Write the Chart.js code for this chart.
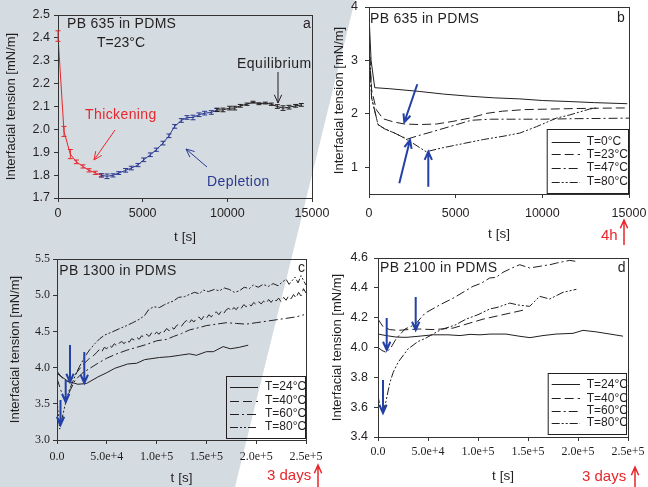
<!DOCTYPE html>
<html>
<head>
<meta charset="utf-8">
<script src="https://cdn.jsdelivr.net/npm/chart.js@4.4.0/dist/chart.umd.min.js"></script>
<style>
  body { margin: 0; width: 648px; height: 487px; position: relative; overflow: hidden; background: #fff; }
  #bg { position: absolute; left: 0; top: 0; width: 648px; height: 487px; background: #d5dce1;
        clip-path: polygon(0 0, 355px 0, 296px 240px, 235px 487px, 0 487px); }
  canvas { position: absolute; }
</style>
</head>
<body>
<div id="bg"></div>
<canvas id="chartA"></canvas>
<canvas id="chartB"></canvas>
<canvas id="chartC"></canvas>
<canvas id="chartD"></canvas>
<script>
// ---- panel a : PB 635 in PDMS, 23 C (with error bars)
const aRedT = [0, 354, 728, 1083, 1476, 1831, 2205, 2559];
const aRedV = [2.408, 1.991, 1.892, 1.858, 1.838, 1.821, 1.810, 1.799];
const aRedErr = [0.023, 0.022, 0.02, 0.008, 0.007, 0.007, 0.007, 0.007];
const aBlueT = [2559, 2894, 3248, 3583, 3996, 4331, 4724, 5059, 5453, 5807, 6201, 6555, 6890, 7283, 7618, 7972, 8327, 8661, 9055, 9390];
const aBlueV = [1.799, 1.795, 1.799, 1.809, 1.821, 1.831, 1.844, 1.867, 1.889, 1.911, 1.940, 1.972, 2.013, 2.039, 2.052, 2.052, 2.064, 2.071, 2.074, 2.085];
const aBlueErr = [0.007, 0.01, 0.007, 0.006, 0.008, 0.008, 0.007, 0.008, 0.008, 0.007, 0.008, 0.008, 0.008, 0.008, 0.008, 0.01, 0.008, 0.008, 0.008, 0.007];
const aBlackT = [9390, 9744, 10138, 10433, 10768, 11161, 11516, 11870, 12244, 12598, 12953, 13287, 13642, 14035, 14370];
const aBlackV = [2.085, 2.085, 2.093, 2.093, 2.103, 2.110, 2.119, 2.112, 2.115, 2.110, 2.100, 2.093, 2.097, 2.103, 2.107];
const aBlackErr = [0.007, 0.008, 0.008, 0.008, 0.006, 0.005, 0.004, 0.004, 0.004, 0.005, 0.008, 0.01, 0.008, 0.006, 0.006];
const aXTicks = [0, 5000, 10000, 15000];
const aYTicks = [1.7, 1.8, 1.9, 2.0, 2.1, 2.2, 2.3, 2.4, 2.5];

// ---- panel b : PB 635 in PDMS, 4 temperatures
const bLabels = ['T=0°C', 'T=23°C', 'T=47°C', 'T=80°C'];
const bT0t = [0, 120, 330, 1200, 2900, 4300, 5800, 7200, 8700, 10000, 11600, 13000, 14900];
const bT0v = [3.85, 3.0, 2.49, 2.47, 2.42, 2.37, 2.33, 2.30, 2.28, 2.25, 2.23, 2.21, 2.19];
const bT23t = [0, 150, 420, 800, 1400, 2050, 2900, 3900, 4850, 5800, 6800, 7700, 9000, 10500, 12000, 14300, 14900];
const bT23v = [3.3, 2.45, 2.08, 1.91, 1.85, 1.81, 1.80, 1.81, 1.86, 1.92, 2.01, 2.05, 2.08, 2.09, 2.10, 2.11, 2.11];
const bT47t = [0, 150, 520, 900, 1480, 1850, 2240, 2820, 3590, 4750, 5900, 7000, 8700, 10000, 12000, 15000];
const bT47v = [3.4, 2.3, 1.80, 1.72, 1.64, 1.58, 1.53, 1.59, 1.66, 1.77, 1.88, 1.90, 1.90, 1.90, 1.91, 1.92];
const bT80t = [0, 150, 520, 900, 1480, 1850, 2440, 3300, 4180, 5530, 6600, 7730, 8700, 9660, 10810, 11580, 12730, 13100];
const bT80v = [3.4, 2.3, 1.80, 1.72, 1.64, 1.58, 1.47, 1.29, 1.36, 1.45, 1.52, 1.58, 1.64, 1.76, 1.92, 1.98, 2.09, 2.11];
const bXTicks = [0, 5000, 10000, 15000];
const bYTicks = [1, 2, 3, 4];

// ---- panel c : PB 1300 in PDMS
const cLabels = ['T=24°C', 'T=40°C', 'T=60°C', 'T=80°C'];
const cT24t = [0, 11000, 21000, 29500, 41000, 50000, 58000, 71000, 80000, 88000, 103000, 113000, 123000, 133000, 140000, 150000, 157000, 166800, 174000, 183000, 192000];
const cT24v = [3.92, 3.81, 3.77, 3.78, 3.87, 3.93, 3.99, 4.05, 4.06, 4.11, 4.14, 4.15, 4.17, 4.19, 4.17, 4.22, 4.22, 4.29, 4.26, 4.28, 4.31];
const cT40t = [0, 5000, 12000, 18000, 26000, 32000, 37000,
  40000, 42500, 45000, 47500, 50000, 52500, 55000, 57500, 60000, 62500, 65000, 67500, 70000, 72500, 75000, 77500,
  80000, 82500, 85000, 87500, 90000, 92500, 95000, 97500, 100000, 102500, 105000, 107500, 110000, 112500, 115000, 117500,
  120000, 122500, 125000, 127500, 130000, 132500, 135000, 137500, 140000, 142500, 145000, 147500, 150000, 152500, 155000, 157500,
  160000, 162500, 165000, 167500, 170000, 172500, 175000, 177500, 180000, 182500, 185000, 187500, 190000, 192500, 195000, 197500,
  200000, 202500, 205000, 207500, 210000, 212500, 215000, 217500, 220000, 222500, 225000, 227500, 230000, 232500, 235000, 237500,
  240000, 242500, 245000, 247500, 250000];
const cT40v = [3.95, 3.86, 3.80, 3.90, 4.04, 4.12, 4.17,
  4.21, 4.25, 4.22, 4.28, 4.26, 4.31, 4.28, 4.33, 4.30, 4.34, 4.36, 4.33, 4.38, 4.35, 4.40, 4.38,
  4.42, 4.39, 4.44, 4.42, 4.46, 4.43, 4.48, 4.45, 4.49, 4.46, 4.51, 4.49, 4.54, 4.51, 4.56, 4.53,
  4.58, 4.60, 4.57, 4.62, 4.65, 4.61, 4.66, 4.63, 4.68, 4.70, 4.66, 4.71, 4.68, 4.73, 4.70, 4.75,
  4.77, 4.73, 4.78, 4.75, 4.80, 4.82, 4.78, 4.83, 4.80, 4.85, 4.82, 4.87, 4.84, 4.88, 4.85, 4.90,
  4.87, 4.91, 4.88, 4.92, 4.89, 4.94, 4.90, 4.95, 4.92, 4.96, 4.91, 4.97, 4.93, 4.99, 4.95, 5.01,
  4.96, 5.04, 4.99, 5.09, 5.03];
const cT60t = [0, 4000, 8400, 13000, 18000, 25000, 33000, 41000, 50000, 60000, 70000, 80000, 90000, 100000, 110000, 117000, 125000, 133000, 142000, 150000, 160000, 170000, 180000, 190000, 200000, 210000, 220000, 230000, 240000, 248000];
const cT60v = [3.85, 3.68, 3.53, 3.68, 3.82, 3.92, 3.99, 4.06, 4.13, 4.19, 4.24, 4.28, 4.32, 4.37, 4.39, 4.43, 4.47, 4.52, 4.55, 4.58, 4.60, 4.62, 4.61, 4.60, 4.62, 4.64, 4.66, 4.68, 4.70, 4.73];
const cT80t = [0, 2700, 7700, 12000, 17800, 22000, 27900, 33000, 38000, 43000, 48000, 55000, 63000, 70000, 76000, 83000, 88000, 92000, 97000, 103000, 108000, 113000, 117000, 122000, 128000, 133000, 138000, 143000, 147000, 152000, 158000, 163000, 168000, 173000, 178000, 183000, 188000, 193000, 197000, 202000, 207000, 212000, 217000, 222000, 226000, 230000, 233000, 236000, 239000, 242000, 245000, 248000, 250000];
const cT80v = [3.55, 3.15, 3.46, 3.68, 3.87, 4.00, 4.15, 4.25, 4.33, 4.40, 4.45, 4.49, 4.54, 4.58, 4.62, 4.67, 4.72, 4.80, 4.84, 4.83, 4.87, 4.90, 4.92, 4.97, 4.98, 5.01, 5.04, 5.02, 5.07, 5.05, 5.08, 5.06, 5.10, 5.08, 5.04, 5.06, 5.11, 5.09, 5.14, 5.11, 5.15, 5.12, 5.16, 5.13, 5.18, 5.22, 5.15, 5.20, 5.25, 5.17, 5.27, 5.19, 5.14];
const cXTicks = [0, 50000, 100000, 150000, 200000, 250000];
const cXLabels = ['0.0', '5.0e+4', '1.0e+5', '1.5e+5', '2.0e+5', '2.5e+5'];
const cYTicks = [3.0, 3.5, 4.0, 4.5, 5.0, 5.5];

// ---- panel d : PB 2100 in PDMS
const dLabels = ['T=24°C', 'T=40°C', 'T=60°C', 'T=80°C'];
const dT24t = [0, 8000, 18000, 28000, 40000, 55000, 70000, 82000, 92000, 102000, 112000, 128000, 142000, 152000, 165000, 178000, 195000, 205000, 218000, 232000, 245000];
const dT24v = [4.09, 4.08, 4.07, 4.068, 4.075, 4.085, 4.085, 4.08, 4.088, 4.085, 4.09, 4.09, 4.075, 4.066, 4.08, 4.09, 4.095, 4.115, 4.105, 4.09, 4.076];
const dT40t = [0, 5000, 11700, 20000, 30000, 41700, 55000, 65000, 75000, 90000, 105000, 115000, 125000, 135000, 145000];
const dT40v = [4.19, 4.14, 4.12, 4.115, 4.12, 4.124, 4.12, 4.125, 4.13, 4.16, 4.19, 4.205, 4.22, 4.235, 4.25];
const dT60t = [0, 4000, 8300, 13000, 18300, 27000, 37000, 47000, 55000, 63000, 75000, 85000, 95000, 103000, 111700, 118000, 125000, 133000, 141700, 151700, 158000, 165000, 172000, 178400, 185000, 191700, 198400];
const dT60v = [4.0, 3.98, 3.967, 4.0, 4.06, 4.124, 4.153, 4.23, 4.26, 4.29, 4.33, 4.37, 4.41, 4.43, 4.466, 4.47, 4.504, 4.53, 4.555, 4.533, 4.54, 4.548, 4.555, 4.566, 4.575, 4.584, 4.577];
const dT80t = [0, 2000, 5000, 8000, 11700, 15000, 20000, 30000, 40000, 47000, 55000, 63000, 77000, 88000, 100000, 111700, 120000, 131700, 140000, 151700, 161700, 171700, 185000, 198400];
const dT80v = [3.68, 3.6, 3.565, 3.64, 3.76, 3.83, 3.90, 3.99, 4.04, 4.06, 4.09, 4.12, 4.15, 4.19, 4.22, 4.258, 4.27, 4.298, 4.285, 4.276, 4.343, 4.325, 4.37, 4.39];
const dXTicks = [0, 50000, 100000, 150000, 200000, 250000];
const dXLabels = ['0.0', '5.0e+4', '1.0e+5', '1.5e+5', '2.0e+5', '2.5e+5'];
const dYTicks = [3.4, 3.6, 3.8, 4.0, 4.2, 4.4, 4.6];

const SANS = '"Liberation Sans", Arial, sans-serif';
const SERIF = '"Liberation Serif", "Times New Roman", serif';
const RED = '#e8262b';
const BLUE = '#2b3990';
const ARROW = '#2340a6';
const INK = '#231f20';
const DASHED = [9, 4];
const DASHDOT = [9, 3, 2, 3];
const DASHDOTDOT = [8, 2, 2, 2, 2, 2];

Chart.defaults.font.family = SANS;
Chart.defaults.color = INK;

function series(t, v, color, dash, label, errors) {
  return {
    label: label,
    data: t.map((x, i) => ({ x: x, y: v[i] })),
    borderColor: color,
    borderWidth: 1,
    borderDash: dash || [],
    pointRadius: 0,
    tension: 0,
    fill: false,
    errors: errors
  };
}

function axis(o) {
  return {
    type: 'linear',
    position: o.pos,
    min: o.min,
    max: o.max,
    afterBuildTicks: ax => { ax.ticks = o.ticks.map(v => ({ value: v })); },
    afterFit: ax => {
      if (o.pos === 'left') ax.width = o.size; else ax.height = o.size;
      ax.paddingLeft = 0; ax.paddingRight = 0; ax.paddingTop = 0; ax.paddingBottom = 0;
    },
    ticks: { autoSkip: false, maxRotation: 0, padding: o.pad, font: o.font, color: INK, callback: o.fmt },
    grid: { drawOnChartArea: false, tickLength: 4, color: '#333' },
    border: { color: '#333' },
    title: { display: true, text: o.title, font: { size: o.tsize, family: SANS }, color: INK, padding: o.tpad }
  };
}

const frame = {
  id: 'frame',
  afterDatasetsDraw(chart) {
    const { ctx, chartArea: a } = chart;
    ctx.save();
    ctx.strokeStyle = '#333';
    ctx.lineWidth = 1;
    ctx.strokeRect(Math.round(a.left) + 0.5, Math.round(a.top) + 0.5, Math.round(a.right - a.left), Math.round(a.bottom - a.top));
    ctx.restore();
  }
};

const errorBars = {
  id: 'errorBars',
  afterDatasetsDraw(chart) {
    const { ctx, scales: { x, y } } = chart;
    chart.data.datasets.forEach(ds => {
      if (!ds.errors) return;
      ctx.save();
      ctx.strokeStyle = ds.borderColor;
      ctx.lineWidth = 1;
      ds.data.forEach((p, i) => {
        const e = ds.errors[i];
        const px = x.getPixelForValue(p.x);
        const top = y.getPixelForValue(p.y + e);
        const bot = y.getPixelForValue(p.y - e);
        ctx.beginPath();
        ctx.moveTo(px, top); ctx.lineTo(px, bot);
        ctx.moveTo(px - 2.5, top); ctx.lineTo(px + 2.5, top);
        ctx.moveTo(px - 2.5, bot); ctx.lineTo(px + 2.5, bot);
        ctx.stroke();
      });
      ctx.restore();
    });
  }
};

function drawArrow(ctx, a) {
  const ang = Math.atan2(a.y2 - a.y1, a.x2 - a.x1);
  const hl = a.head || 9;
  ctx.strokeStyle = a.color;
  ctx.lineWidth = a.w || 1;
  ctx.beginPath();
  ctx.moveTo(a.x1, a.y1);
  ctx.lineTo(a.x2, a.y2);
  ctx.moveTo(a.x2 - hl * Math.cos(ang - 0.42), a.y2 - hl * Math.sin(ang - 0.42));
  ctx.lineTo(a.x2, a.y2);
  ctx.lineTo(a.x2 - hl * Math.cos(ang + 0.42), a.y2 - hl * Math.sin(ang + 0.42));
  ctx.stroke();
}

// texts, arrows and the boxed legend, given in page pixels
function notes(ox, oy, n) {
  return {
    id: 'notes',
    afterDraw(chart) {
      const ctx = chart.ctx;
      ctx.save();
      ctx.translate(-ox, -oy);
      (n.texts || []).forEach(t => {
        ctx.font = (t.size || 14) + 'px ' + SANS;
        ctx.letterSpacing = (t.ls || 0) + 'px';
        ctx.fillStyle = t.color || INK;
        ctx.textBaseline = 'alphabetic';
        ctx.textAlign = 'left';
        ctx.fillText(t.s, t.x, t.y);
      });
      ctx.letterSpacing = '0px';
      (n.arrows || []).forEach(a => drawArrow(ctx, a));
      const lg = n.legend;
      if (lg) {
        ctx.strokeStyle = INK;
        ctx.lineWidth = 1;
        ctx.setLineDash([]);
        ctx.strokeRect(lg.x + 0.5, lg.y + 0.5, lg.w, lg.h);
        ctx.font = '12px ' + SANS;
        ctx.fillStyle = INK;
        ctx.textBaseline = 'middle';
        chart.data.datasets.forEach((ds, i) => {
          const ry = lg.rows[i];
          ctx.setLineDash(ds.borderDash);
          ctx.beginPath();
          ctx.moveTo(lg.lx1, Math.round(ry) + 0.5);
          ctx.lineTo(lg.lx2, Math.round(ry) + 0.5);
          ctx.stroke();
          ctx.setLineDash([]);
          ctx.fillText(ds.label, lg.tx, ry);
        });
      }
      ctx.restore();
    }
  };
}

function makeChart(id, box, pad, datasets, xAx, yAx, n) {
  const cv = document.getElementById(id);
  cv.width = box.w; cv.height = box.h;
  cv.style.left = box.left + 'px'; cv.style.top = box.top + 'px';
  cv.style.width = box.w + 'px'; cv.style.height = box.h + 'px';
  return new Chart(cv, {
    type: 'line',
    data: { datasets: datasets },
    options: {
      responsive: false,
      animation: false,
      devicePixelRatio: 1,
      layout: { padding: pad },
      plugins: { legend: { display: false }, tooltip: { enabled: false } },
      scales: { x: xAx, y: yAx }
    },
    plugins: [frame, errorBars, notes(box.left, box.top, n)]
  });
}

const YTITLE = 'Interfacial tension [mN/m]';

// panel a
makeChart('chartA', { left: 0, top: 0, w: 330, h: 250 }, { left: 0, top: 15, right: 18, bottom: 0 },
  [
    series(aRedT, aRedV, RED, [], 'a1', aRedErr),
    series(aBlueT, aBlueV, BLUE, [], 'a2', aBlueErr),
    series(aBlackT, aBlackV, INK, [], 'a3', aBlackErr)
  ],
  axis({ pos: 'bottom', min: 0, max: 15000, ticks: aXTicks, size: 52, pad: 4, font: { size: 12.5 }, fmt: v => String(v),
         title: 't [s]', tsize: 13.5, tpad: { top: 0, bottom: 4.5 } }),
  axis({ pos: 'left', min: 1.7, max: 2.5, ticks: aYTicks, size: 58, pad: 4, font: { size: 12.5 }, fmt: v => v.toFixed(1),
         title: YTITLE, tsize: 13, tpad: { top: 4, bottom: 0 } }),
  {
    texts: [
      { s: 'PB 635 in PDMS', x: 67, y: 28, ls: 0.3 },
      { s: 'T=23°C', x: 97, y: 46.5 },
      { s: 'a', x: 303, y: 28 },
      { s: 'Thickening', x: 85, y: 119, color: RED, ls: 0.4 },
      { s: 'Depletion', x: 207, y: 186, color: BLUE, ls: 0.4 },
      { s: 'Equilibrium', x: 237, y: 68, ls: 0.5 }
    ],
    arrows: [
      { x1: 115, y1: 130, x2: 94, y2: 160, color: RED, w: 1 },
      { x1: 207, y1: 167, x2: 186, y2: 149, color: BLUE, w: 1 },
      { x1: 278, y1: 72, x2: 278, y2: 103, color: INK, w: 1 }
    ]
  });

// panel b
makeChart('chartB', { left: 325, top: 0, w: 323, h: 250 }, { left: 0, top: 7, right: 19, bottom: 0 },
  [
    series(bT0t, bT0v, INK, [], bLabels[0]),
    series(bT23t, bT23v, INK, DASHED, bLabels[1]),
    series(bT47t, bT47v, INK, DASHDOT, bLabels[2]),
    series(bT80t, bT80v, INK, DASHDOTDOT, bLabels[3])
  ],
  axis({ pos: 'bottom', min: 0, max: 15000, ticks: bXTicks, size: 56, pad: 8, font: { size: 12.5 }, fmt: v => String(v),
         title: 't [s]', tsize: 13.5, tpad: { top: 0, bottom: 7.6 } }),
  axis({ pos: 'left', min: 0.5, max: 4, ticks: bYTicks, size: 44, pad: 7, font: { size: 12.5 }, fmt: v => String(v),
         title: YTITLE, tsize: 13, tpad: { top: 7, bottom: 0 } }),
  {
    texts: [
      { s: 'PB 635 in PDMS', x: 370, y: 23, ls: 0.3 },
      { s: 'b', x: 617, y: 21.7 },
      { s: '4h', x: 601, y: 240, color: RED, size: 15 }
    ],
    arrows: [
      { x1: 417.3, y1: 84.3, x2: 404.3, y2: 122.3, color: ARROW, w: 2 },
      { x1: 399.3, y1: 183.3, x2: 410, y2: 140, color: ARROW, w: 2 },
      { x1: 428.3, y1: 186.7, x2: 428.3, y2: 151.7, color: ARROW, w: 2 },
      { x1: 624, y1: 245, x2: 624, y2: 220, color: RED, w: 1.5 }
    ],
    legend: { x: 546.7, y: 129, w: 81.3, h: 64, rows: [141.7, 154.3, 167.7, 181.7], lx1: 551.7, lx2: 580, tx: 586.7 }
  });

// panel c
makeChart('chartC', { left: 0, top: 245, w: 330, h: 242 }, { left: 0, top: 14, right: 24, bottom: 0 },
  [
    series(cT24t, cT24v, INK, [], cLabels[0]),
    series(cT40t, cT40v, INK, DASHED, cLabels[1]),
    series(cT60t, cT60v, INK, DASHDOT, cLabels[2]),
    series(cT80t, cT80v, INK, DASHDOTDOT, cLabels[3])
  ],
  axis({ pos: 'bottom', min: 0, max: 250000, ticks: cXTicks, size: 47, pad: 6, font: { size: 12, family: SERIF }, fmt: (v, i) => cXLabels[i],
         title: 't [s]', tsize: 13.5, tpad: { top: 0, bottom: 1 } }),
  axis({ pos: 'left', min: 3.0, max: 5.5, ticks: cYTicks, size: 57, pad: 3, font: { size: 12, family: SERIF }, fmt: v => v.toFixed(1),
         title: YTITLE, tsize: 13, tpad: { top: 8, bottom: 0 } }),
  {
    texts: [
      { s: 'PB 1300 in PDMS', x: 59.3, y: 275, ls: 0.3 },
      { s: 'c', x: 298, y: 272 },
      { s: '3 days', x: 267, y: 480, color: RED, size: 15 }
    ],
    arrows: [
      { x1: 70, y1: 345, x2: 70, y2: 382, color: ARROW, w: 2 },
      { x1: 65.7, y1: 380, x2: 65.7, y2: 402, color: ARROW, w: 2 },
      { x1: 60.5, y1: 400, x2: 60.5, y2: 425, color: ARROW, w: 2 },
      { x1: 84.3, y1: 352, x2: 84.3, y2: 383, color: ARROW, w: 2 },
      { x1: 318, y1: 487, x2: 318, y2: 465, color: RED, w: 1.5 }
    ],
    legend: { x: 226, y: 376, w: 79, h: 62, rows: [386.7, 401, 414, 426.7], lx1: 230, lx2: 258, tx: 265 }
  });

// panel d
makeChart('chartD', { left: 325, top: 245, w: 323, h: 242 }, { left: 0, top: 13, right: 20, bottom: 0 },
  [
    series(dT24t, dT24v, INK, [], dLabels[0]),
    series(dT40t, dT40v, INK, DASHED, dLabels[1]),
    series(dT60t, dT60v, INK, DASHDOT, dLabels[2]),
    series(dT80t, dT80v, INK, DASHDOTDOT, dLabels[3])
  ],
  axis({ pos: 'bottom', min: 0, max: 250000, ticks: dXTicks, size: 50, pad: 4, font: { size: 12, family: SERIF }, fmt: (v, i) => dXLabels[i],
         title: 't [s]', tsize: 13.5, tpad: { top: 0, bottom: 2.6 } }),
  axis({ pos: 'left', min: 3.4, max: 4.6, ticks: dYTicks, size: 53, pad: 6, font: { size: 12.5 }, fmt: v => v.toFixed(1),
         title: YTITLE, tsize: 13, tpad: { top: 5, bottom: 0 } }),
  {
    texts: [
      { s: 'PB 2100 in PDMS', x: 380, y: 271.7, ls: 0.3 },
      { s: 'd', x: 617.7, y: 271.7 },
      { s: '3 days', x: 582, y: 481, color: RED, size: 15 }
    ],
    arrows: [
      { x1: 386.7, y1: 318, x2: 386.7, y2: 350, color: ARROW, w: 2 },
      { x1: 415.7, y1: 297, x2: 415.7, y2: 330, color: ARROW, w: 2 },
      { x1: 383, y1: 380, x2: 383, y2: 413, color: ARROW, w: 2 },
      { x1: 635, y1: 487, x2: 635, y2: 467, color: RED, w: 1.5 }
    ],
    legend: { x: 547.7, y: 373, w: 78.3, h: 61, rows: [384.3, 398.3, 410.7, 422.7], lx1: 551.7, lx2: 580, tx: 586.7 }
  });
</script>
</body>
</html>
